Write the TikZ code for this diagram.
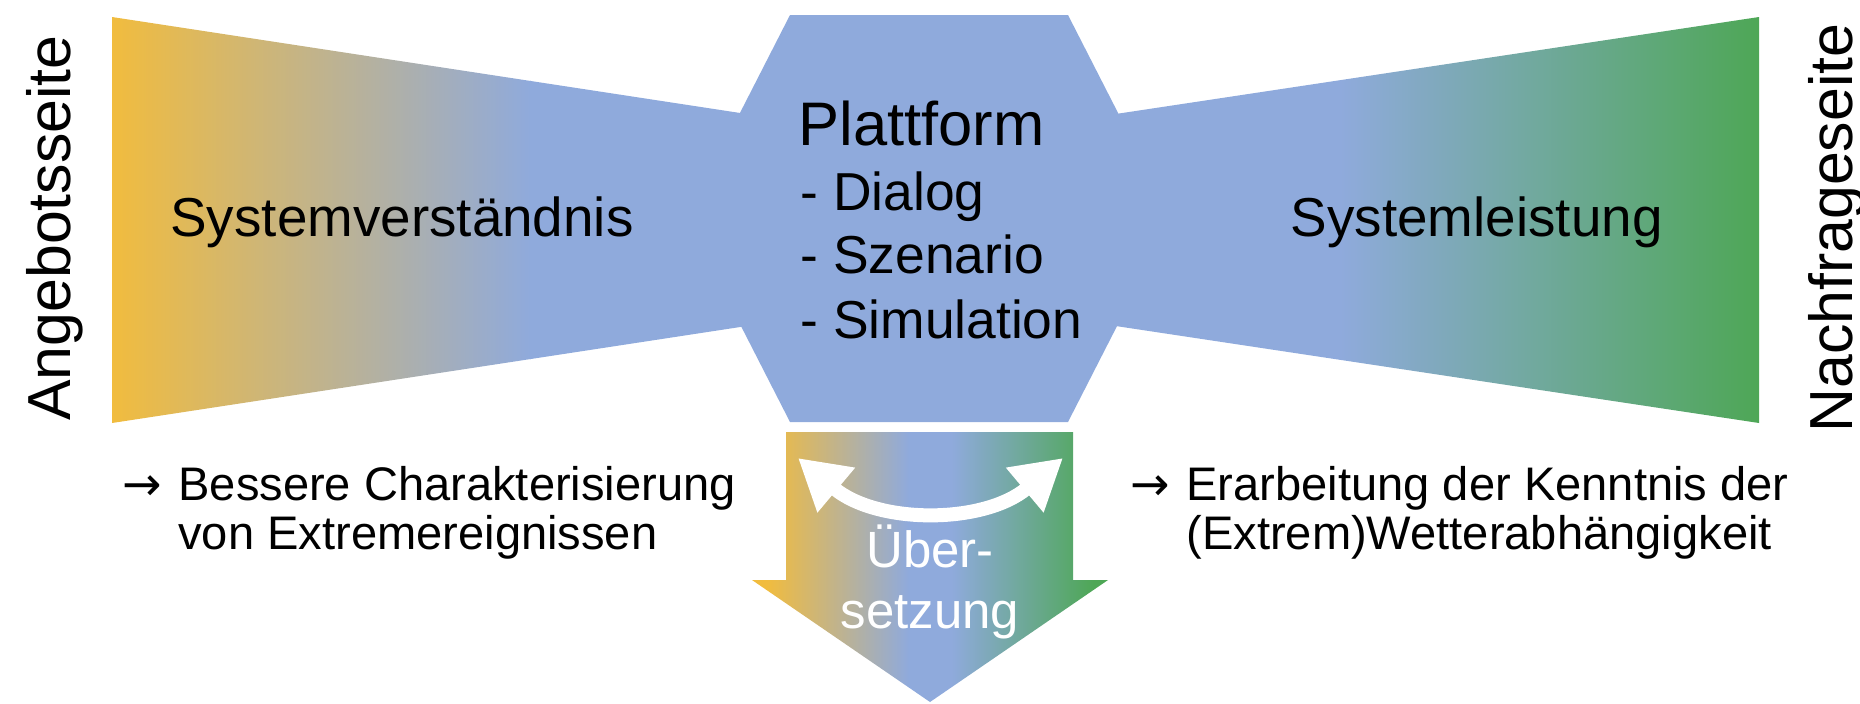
\documentclass[tikz,border=0pt]{standalone}
\usepackage{fontspec}
\setmainfont{Liberation Sans}
\newfontfamily\pfeilfont{DejaVu Sans}
\usetikzlibrary{arrows.meta}

\definecolor{gold}{RGB}{241,188,62}
\definecolor{blau}{RGB}{143,170,220}
\definecolor{gruen}{RGB}{78,167,86}

% gold - blue - green across the arrow, short blue band in the middle
\pgfdeclarehorizontalshading{quer}{100bp}{color(0bp)=(gold); color(27bp)=(gold);
    color(47bp)=(blau); color(53bp)=(blau); color(73bp)=(gruen); color(100bp)=(gruen)}

\begin{document}
\begin{tikzpicture}[x=0.1mm, y=-0.1mm,
    side/.style = {rotate=90, anchor=base, font=\fontsize{17.3}{20}\selectfont},
    big/.style = {anchor=base west, font=\fontsize{15.6}{18}\selectfont},
    item/.style = {anchor=base west, font=\fontsize{15.2}{18}\selectfont},
    note/.style = {anchor=base west, font=\fontsize{13.4}{16}\selectfont},
    uebers/.style = {anchor=base, white, font=\fontsize{14.5}{17}\selectfont}
    ]
\useasboundingbox (0,0) rectangle (1860,703);

% left funnel: gold fading into blue
\begin{scope}
\clip (112,17) -- (930,142) -- (930,298) -- (112,423) -- cycle;
\shade[left color=gold, right color=blau] (111,0) rectangle (531,440);
\fill[blau] (530,0) rectangle (931,440);
\end{scope}

% right funnel: blue fading into green
\begin{scope}
\clip (1759,17) -- (930,142) -- (930,298) -- (1759,423) -- cycle;
\fill[blau] (929,0) rectangle (1341,440);
\shade[left color=blau, right color=gruen] (1340,0) rectangle (1760,440);
\end{scope}

% hexagon in the middle
\fill[blau] (790,15) -- (1068,15) -- (1172,218.5) -- (1068,422) -- (790,422) -- (686,218.5) -- cycle;

% big arrow downwards
\shade[shading=quer]
    (786,432) -- (1073,432) -- (1073,580) -- (1108,580) -- (930,702) -- (752,580) -- (786,580) -- cycle;

\node[side] (0) at (71,228) {Angebotsseite};
\node[side] (1) at (1852,228) {Nachfrageseite};

\node[big] (2) at (158,236) {Systemverständnis};
\node[big, anchor=base east] (3) at (1675,236) {Systemleistung};

\node[anchor=base west, font=\fontsize{17.5}{20}\selectfont] (4) at (786,145) {Plattform};
\node[item] (5) at (788,210) {- Dialog};
\node[item] (6) at (788,273) {- Szenario};
\node[item] (7) at (788,338) {- Simulation};

\node[note] (8) at (110,500) {\pfeilfont →};
\node[note] (9) at (166,500) {Bessere Charakterisierung};
\node[note] (10) at (166,549) {von Extremereignissen};
\node[note] (11) at (1118,500) {\pfeilfont →};
\node[note] (12) at (1174,500) {Erarbeitung der Kenntnis der};
\node[note] (13) at (1174,549) {(Extrem)Wetterabhängigkeit};

\node[uebers] (14) at (930,567) {Über-};
\node[uebers] (15) at (930,628) {setzung};

% white double arrow
\coordinate (a) at (798,458);
\coordinate (b) at (1063,458);
\draw[white, line width=1.4mm, {Triangle[length=5mm, width=5.5mm]}-{Triangle[length=5mm, width=5.5mm]}] (a) to[bend right=40] (b);

\end{tikzpicture}
\end{document}
